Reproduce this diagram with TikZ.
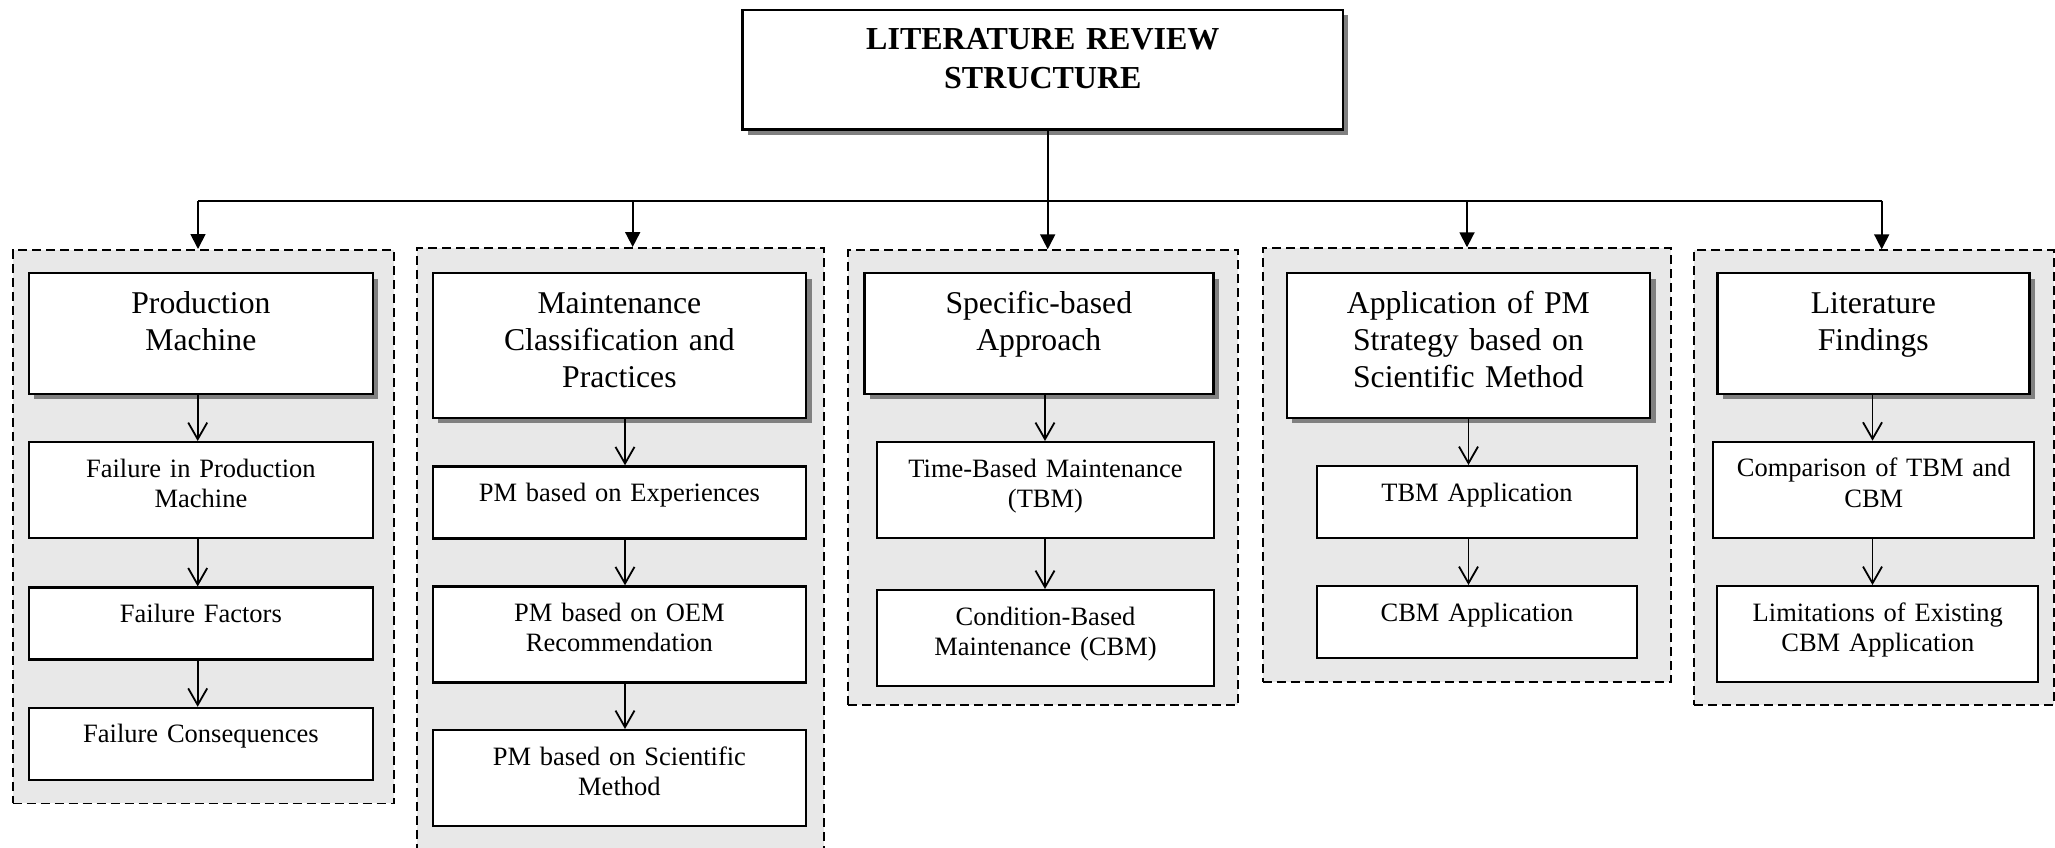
\documentclass[tikz,border=0pt]{standalone}
\usepackage{fontspec}
\setmainfont{Liberation Serif}
\usetikzlibrary{arrows.meta,shadows}
\definecolor{groupfill}{RGB}{232,232,232}
\definecolor{shadowgray}{RGB}{128,128,128}

\begin{document}
\begin{tikzpicture}[x=0.5pt,y=-0.5pt,line width=0.9pt,
    group box/.style={draw,dash pattern=on 4.5pt off 2.5pt,fill=groupfill,inner sep=0pt,anchor=north west},
    title box/.style={draw,fill=white,line width=1.2pt,anchor=north,align=center,inner xsep=0pt,inner ysep=4pt,
      font=\fontsize{16pt}{19.5pt}\selectfont\bfseries,text height=15.75pt,text depth=36.15pt,
      drop shadow={shadow xshift=2.6pt,shadow yshift=-2.6pt,fill=shadowgray,opacity=1}},
    main box/.style={draw,fill=white,line width=1.2pt,anchor=north,align=center,inner xsep=0pt,inner ysep=4pt,
      font=\fontsize{15.85pt}{18.5pt}\selectfont,text height=16pt,text depth=#1,
      drop shadow={shadow xshift=2.7pt,shadow yshift=-2.7pt,fill=shadowgray,opacity=1}},
    main box/.default=36.4pt,
    sub box/.style={draw,fill=white,line width=1.1pt,anchor=north,align=center,inner xsep=0pt,inner ysep=4pt,
      font=\fontsize{13.25pt}{15.2pt}\selectfont,text height=13.5pt,text depth=#1},
    sub box/.default=14.5pt,
    down/.style={-{Triangle[length=7.5pt,width=7.5pt]}},
    flow/.style={-{Straight Barb[length=8.3pt,width=9.5pt]}}]

  \useasboundingbox (0,0) rectangle (2055,847);

  \node[group box,minimum width=190.65pt,minimum height=276.75pt] (G1) at (11.7,249) {};
  \node[group box,minimum width=203.5pt,minimum height=310pt] (G2) at (416,247) {};
  \node[group box,minimum width=195pt,minimum height=227.35pt] (G3) at (847.3,249.3) {};
  \node[group box,minimum width=204.15pt,minimum height=216.7pt] (G4) at (1261.7,247.3) {};
  \node[group box,minimum width=179.85pt,minimum height=227.35pt] (G5) at (1693.3,249.3) {};

  \node[title box,text width=300.2pt] (T) at (1042.85,8.5) {LITERATURE REVIEW\\STRUCTURE};

  \node[main box,text width=171.9pt] (H1) at (200.9,272) {Production\\Machine};
  \node[main box=48.4pt,text width=186.7pt] (H2) at (619.4,272) {Maintenance\\Classification and\\Practices};
  \node[main box,text width=174.5pt] (H3) at (1038.8,272) {Specific-based\\Approach};
  \node[main box=48.4pt,text width=181.7pt] (H4) at (1468.4,272) {Application of PM\\Strategy based on\\Scientific Method};
  \node[main box,text width=156pt] (H5) at (1873.3,272) {Literature\\Findings};

  \node[sub box=26.5pt,text width=171.9pt] (S11) at (200.9,441) {Failure in Production\\Machine};
  \node[sub box,text width=171.9pt] (S12) at (200.9,586.4) {Failure Factors};
  \node[sub box,text width=171.9pt] (S13) at (200.9,706.8) {Failure Consequences};
  \node[sub box,text width=186.7pt] (S21) at (619.4,465.3) {PM based on Experiences};
  \node[sub box=26.5pt,text width=186.7pt] (S22) at (619.4,585.3) {PM based on OEM\\Recommendation};
  \node[sub box=26.5pt,text width=186.7pt] (S23) at (619.4,729) {PM based on Scientific\\Method};
  \node[sub box=26.5pt,text width=168.8pt] (S31) at (1045.5,441) {Time-Based Maintenance\\(TBM)};
  \node[sub box=26.5pt,text width=168.8pt] (S32) at (1045.5,589) {Condition-Based\\Maintenance (CBM)};
  \node[sub box,text width=160.3pt] (S41) at (1477,465) {TBM Application};
  \node[sub box,text width=160.3pt] (S42) at (1477,585) {CBM Application};
  \node[sub box=26.5pt,text width=160.5pt] (S51) at (1873.8,440.7) {Comparison of TBM and\\CBM};
  \node[sub box=26.5pt,text width=160.5pt] (S52) at (1877.8,585) {Limitations of Existing\\CBM Application};

  \coordinate (B1) at (198,200.7);
  \coordinate (B2) at (632.7,200.7);
  \coordinate (B3) at (1047.7,200.7);
  \coordinate (B4) at (1467,200.7);
  \coordinate (B5) at (1881.7,200.7);
  \coordinate (X1) at (197.7,0);
  \coordinate (X2) at (625,0);
  \coordinate (X3) at (1045,0);
  \coordinate (X4) at (1468.5,0);
  \coordinate (X5) at (1872.5,0);

  \draw (B1) -- (B5);
  \draw[down] (T.south -| B3) -- (G3.north -| B3);
  \foreach \i in {1,2,4,5}
    \draw[down] (B\i) -- (G\i.north -| B\i);

  \foreach \a/\b/\c in {H1/S11/X1,S11/S12/X1,S12/S13/X1,H2/S21/X2,S21/S22/X2,S22/S23/X2,
                        H3/S31/X3,S31/S32/X3,H4/S41/X4,S41/S42/X4,H5/S51/X5,S51/S52/X5}
    \draw[flow] (\a.south -| \c) -- (\b.north -| \c);
\end{tikzpicture}
\end{document}
